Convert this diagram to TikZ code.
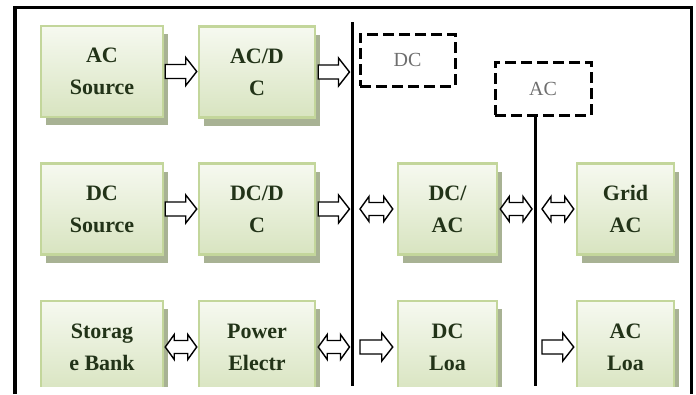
\documentclass[tikz,border=0pt]{standalone}
\usepackage{fontspec}
\setmainfont{Liberation Serif}
\usetikzlibrary{calc,shadows}
\definecolor{boxtop}{HTML}{F6F9F0}
\definecolor{boxbot}{HTML}{D8E4C0}
\definecolor{boxline}{HTML}{C3D69B}
\definecolor{boxshade}{HTML}{A8B294}
\definecolor{boxtext}{HTML}{223318}
\definecolor{bustext}{HTML}{6E6E6E}
\tikzset{
  unit/.style={draw=boxline, line width=2.5pt, top color=boxtop, bottom color=boxbot,
    drop shadow={shadow xshift=5pt, shadow yshift=-8pt, fill=boxshade, opacity=1},
    minimum height=91pt, inner sep=0pt, align=center, text=boxtext,
    font=\fontsize{22}{32}\selectfont\bfseries},
  busbox/.style={draw=black, line width=3pt, dash pattern=on 11pt off 5pt,
    text=bustext, font=\fontsize{20}{24}\selectfont},
  bus/.style={line width=3pt},
  blk/.style={fill=white, draw=black, line width=1.4pt,
    to path={let \p1=(\tikztostart), \p2=(\tikztotarget) in
      (\x1,\y1+7pt) -- (\x2-11pt,\y1+7pt) -- (\x2-11pt,\y1+14pt) -- (\x2,\y1)
      -- (\x2-11pt,\y1-14pt) -- (\x2-11pt,\y1-7pt) -- (\x1,\y1-7pt) -- cycle}},
  dbl/.style={fill=white, draw=black, line width=1.4pt,
    to path={let \p1=(\tikztostart), \p2=(\tikztotarget) in
      (\x1,\y1) -- (\x1+9pt,\y1+12.5pt) -- (\x1+9pt,\y1+6.5pt) -- (\x2-9pt,\y1+6.5pt)
      -- (\x2-9pt,\y1+12.5pt) -- (\x2,\y1) -- (\x2-9pt,\y1-12.5pt) -- (\x2-9pt,\y1-6.5pt)
      -- (\x1+9pt,\y1-6.5pt) -- (\x1+9pt,\y1-12.5pt) -- cycle}}
}
\begin{document}
\begin{tikzpicture}[x=1pt, y=-1pt]
  \useasboundingbox (0,0) rectangle (696,394);
  % frame, open at the bottom
  \draw[line width=3.5pt] (15,394) -- (15,7.5) -- (691.5,7.5) -- (691.5,394);
  \begin{scope}
    \clip (0,0) rectangle (696,386);
    \node[unit, minimum width=122pt] (acs) at (102,71.5) {AC\\Source};
    \node[unit, minimum width=116pt] (acdc) at (257,72) {AC/D\\C};
    \node[unit, minimum width=122pt] (dcs) at (102,209) {DC\\Source};
    \node[unit, minimum width=116pt] (dcdc) at (257,209) {DC/D\\C};
    \node[unit, minimum width=122pt, minimum height=92pt] (stor) at (102,347) {Storag\\e Bank};
    \node[unit, minimum width=116pt, minimum height=92pt] (pe) at (257,347) {Power\\Electr};
    \node[unit, minimum width=99pt] (dcac) at (447.5,209) {DC/\\AC};
    \node[unit, minimum width=97pt] (grid) at (625.5,209) {Grid\\AC};
    \node[unit, minimum width=99pt, minimum height=92pt] (dcl) at (447.5,347) {DC\\Loa};
    \node[unit, minimum width=97pt, minimum height=92pt] (acl) at (625.5,347) {AC\\Loa};
    % buses
    \node[busbox, minimum width=95pt, minimum height=52pt] (dcbus) at (407.5,60) {DC};
    \node[busbox, minimum width=96pt, minimum height=53pt] (acbus) at (543,88.5) {AC};
    \coordinate (dctop) at (352,22);
    \coordinate (dcbot) at (352,386);
    \coordinate (acbot) at (535,386);
    \draw[bus] (dctop) -- (dcbot);
    \draw[bus] (acbus.south -| acbot) -- (acbot);
    % power flow
    \draw[blk] ($(acs.east)+(1,0)$) to ($(acdc.west)+(-1,0)$);
    \draw[blk] ($(acdc.east)+(2,0)$) to ($(acdc.east -| dctop)+(-2.5,0)$);
    \draw[blk] ($(dcs.east)+(1,0)$) to ($(dcdc.west)+(-1,0)$);
    \draw[blk] ($(dcdc.east)+(2,0)$) to ($(dcdc.east -| dctop)+(-2.5,0)$);
    \draw[dbl] ($(dcac.west -| dctop)+(8,0)$) to ($(dcac.west)+(-4,0)$);
    \draw[dbl] ($(dcac.east)+(2,0)$) to ($(dcac.east -| acbot)+(-3,0)$);
    \draw[dbl] ($(grid.west -| acbot)+(7,0)$) to ($(grid.west)+(-2,0)$);
    \draw[dbl] ($(stor.east)+(1,0)$) to ($(pe.west)+(-1,0)$);
    \draw[dbl] ($(pe.east)+(2,0)$) to ($(pe.east -| dctop)+(-2.5,0)$);
    \draw[blk] ($(dcl.west -| dctop)+(8,0)$) to ($(dcl.west)+(-4,0)$);
    \draw[blk] ($(acl.west -| acbot)+(7,0)$) to ($(acl.west)+(-2,0)$);
  \end{scope}
\end{tikzpicture}
\end{document}
